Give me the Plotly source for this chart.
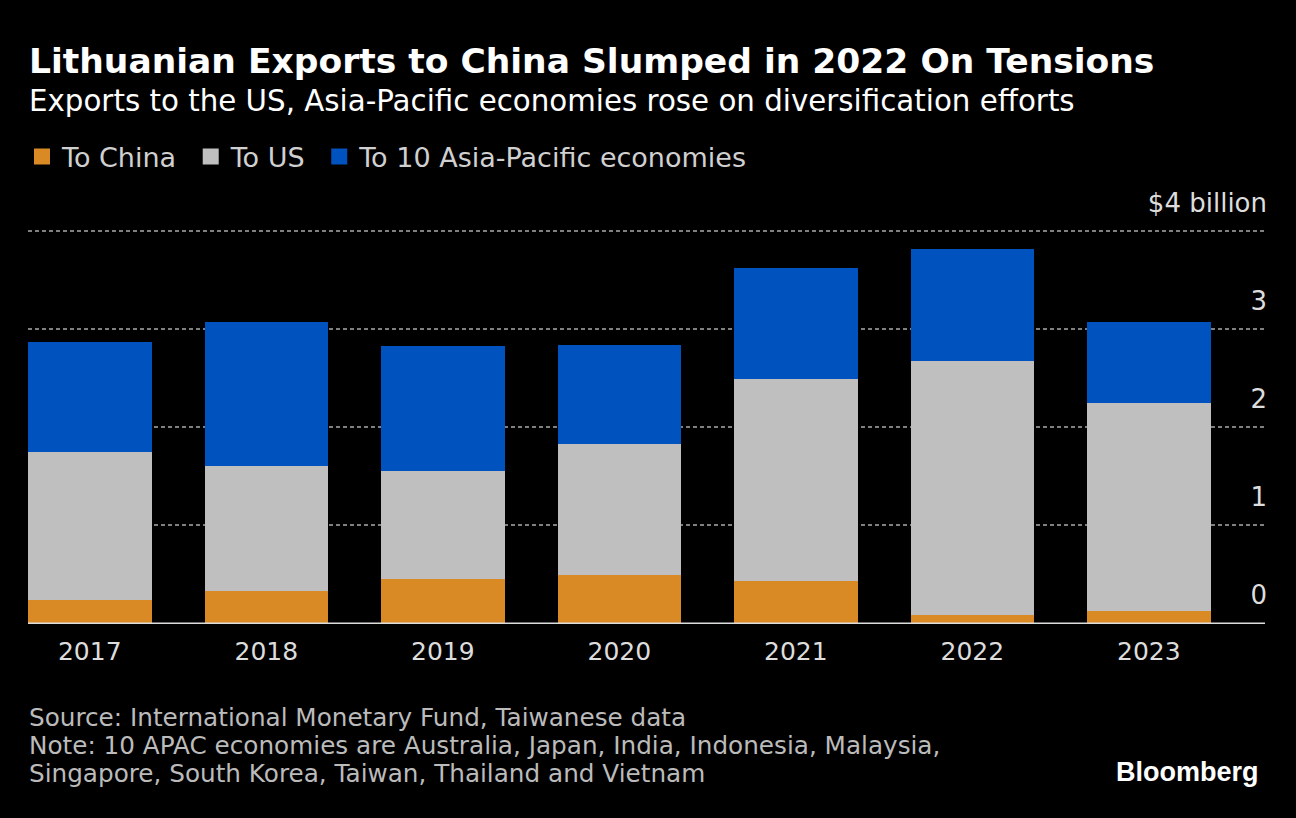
import plotly.graph_objects as go

years = ["2017", "2018", "2019", "2020", "2021", "2022", "2023"]
to_china = [0.24, 0.33, 0.45, 0.49, 0.43, 0.09, 0.13]
to_us = [1.51, 1.28, 1.10, 1.34, 2.06, 2.59, 2.12]
to_apac = [1.12, 1.46, 1.28, 1.01, 1.13, 1.14, 0.82]
y_ticks = [0, 1, 2, 3, 4]
y_ticktext = ["0", "1", "2", "3", "$4 billion"]

series_names = ["To China", "To US", "To 10 Asia-Pacific economies"]
series_colors = ["#DA8A25", "#BFBFBF", "#0052BE"]

W, H = 1296, 818
YMIN, YMAX = -0.005, 4.02
L, R = 28, 1265
PX_PER_UNIT = (624 - 231) / 4
B = 624 + (0 - YMIN) * PX_PER_UNIT
T = 624 - YMAX * PX_PER_UNIT
FONT = "DejaVu Sans, Open Sans, sans-serif"
NBSP = "\u00a0"

def py(p):
    return (B - p) / (B - T)

def px(p):
    return (p - L) / (R - L)

xs = list(range(len(years)))
fig = go.Figure()
for vals, name, col in zip([to_china, to_us, to_apac], series_names, series_colors):
    fig.add_bar(x=xs, y=vals, name=name, marker_color=col, marker_line_width=0,
                showlegend=False)
for name, col in zip(series_names, series_colors):
    fig.add_scatter(x=[None], y=[None], mode="markers", name=name + NBSP,
                    marker=dict(symbol="square", size=19, color=col, line_width=0))

fig.update_layout(
    barmode="stack",
    bargap=0.3,
    width=W, height=H,
    margin=dict(l=L, r=W - R, t=T, b=H - B, pad=0),
    paper_bgcolor="#000000",
    plot_bgcolor="#000000",
    font=dict(family=FONT, color="#DDDDDD", size=26),
    showlegend=True,
    legend=dict(
        orientation="h", x=px(22), xanchor="left", y=py(157), yanchor="middle",
        font=dict(size=27, color="#D0D0D0"), bgcolor="rgba(0,0,0,0)",
        traceorder="normal", itemclick=False, borderwidth=0,
    ),
    xaxis=dict(
        range=[-0.35, 6.658],
        tickvals=xs, ticktext=years,
        showgrid=False, zeroline=False, showline=False,
        ticks="", tickfont=dict(size=25, color="#DDDDDD"),
        ticklabelstandoff=10,
    ),
    yaxis=dict(
        range=[YMIN, YMAX], side="right",
        tickvals=y_ticks, ticktext=y_ticktext,
        ticklabelposition="inside top", ticklabelshift=-10, ticklabelstandoff=-5,
        ticklabeloverflow="allow",
        showgrid=True, gridcolor="#808080", griddash="4px,3px", gridwidth=1.5,
        zeroline=False,
        showline=False, ticks="",
        tickfont=dict(size=26, color="#DDDDDD"),
    ),
    shapes=[dict(type="line", xref="paper", yref="y", x0=0, x1=1, y0=0, y1=0,
                 line=dict(color="#DDDDDD", width=2), layer="above")],
)

annos = [
    dict(text="<b>Lithuanian Exports to China Slumped in 2022 On Tensions</b>", x=px(27), y=py(61),
         font=dict(size=34.5, color="#FFFFFF", family=FONT)),
    dict(text="Exports to the US, Asia-Pacific economies rose on diversification efforts", x=px(27), y=py(101),
         font=dict(size=29.3, color="#FFFFFF", family=FONT)),
    dict(text="Source: International Monetary Fund, Taiwanese data", x=px(27), y=py(718),
         font=dict(size=24.7, color="#BBBBBB", family=FONT)),
    dict(text="Note: 10 APAC economies are Australia, Japan, India, Indonesia, Malaysia,", x=px(27), y=py(746),
         font=dict(size=24.7, color="#BBBBBB", family=FONT)),
    dict(text="Singapore, South Korea, Taiwan, Thailand and Vietnam", x=px(27), y=py(774),
         font=dict(size=24.7, color="#BBBBBB", family=FONT)),
]
for a in annos:
    fig.add_annotation(xref="paper", yref="paper", xanchor="left", yanchor="middle",
                       showarrow=False, **a)
fig.add_annotation(xref="paper", yref="paper", x=px(1261), y=py(773), xanchor="right", yanchor="middle",
                   showarrow=False, text="<b>Bloomberg</b>",
                   font=dict(size=27, color="#FFFFFF", family="Liberation Sans, Arial, sans-serif"))

fig.write_html("out.html", config={"displayModeBar": False},
               post_script="document.body.style.margin='0px';")
